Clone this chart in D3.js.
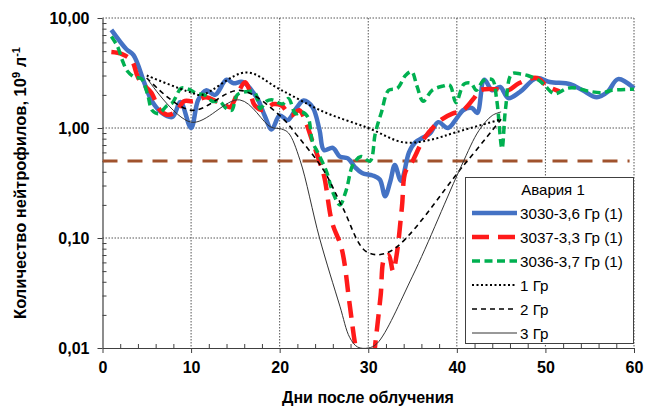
<!DOCTYPE html>
<html>
<head>
<meta charset="utf-8">
<script src="https://cdn.jsdelivr.net/npm/d3@7"></script>
<style>
html,body{margin:0;padding:0;background:#fff;}
svg{display:block;font-family:Arial,"Liberation Sans",sans-serif;}
</style>
</head>
<body>
<svg id="chart" width="646" height="407"></svg>
<script>
// ---------- data ----------
const xTickValues = [0, 10, 20, 30, 40, 50, 60];
const xMinorTicks = [2,4,6,8,12,14,16,18,22,24,26,28,32,34,36,38,42,44,46,48,52,54,56,58];
const yTickValues = [0.01, 0.1, 1, 10];
const yTickLabels = ["0,01", "0,10", "1,00", "10,00"];
const xTitle = "Дни после облучения";
const yTitleMain = "Количество нейтрофилов, 10";
const legendTitle = "Авария 1";
const seriesNames = ["3030-3,6 Гр (1)", "3037-3,3 Гр (1)", "3036-3,7 Гр (1)", "1 Гр", "2 Гр", "3 Гр"];
const thresholdValue = 0.5;

const blue3030 = [[1,7.8],[2.7,5.2],[3.5,4.6],[4.7,2.6],[5.5,1.8],[6.7,1.37],[7.9,1.26],[8.8,1.72],[10,1.0],[10.8,1.8],[11.7,2.2],[12.7,2.0],[14,2.75],[14.8,2.55],[15.8,2.62],[17.4,1.9],[18.3,1.3],[19.1,0.97],[20,1.3],[20.9,1.18],[21.9,1.52],[22.7,1.78],[23.7,1.55],[24.5,0.96],[25,0.63],[26,0.66],[26.8,0.55],[27.7,0.53],[28.5,0.44],[29.3,0.39],[30.5,0.37],[31.3,0.34],[31.9,0.24],[32.5,0.33],[33,0.46],[33.7,0.33],[34.6,0.6],[35.3,0.74],[36.2,0.82],[37,0.9],[37.9,1.13],[39,1.0],[40,1.23],[40.7,1.45],[41.7,1.52],[42.3,1.37],[43.1,2.75],[44,2.2],[44.9,2.36],[45.8,1.87],[47.1,2.12],[49,2.84],[50.5,2.62],[52.8,2.5],[54.2,2.2],[55.8,1.9],[57,2.12],[58.2,2.78],[60,2.3]];
const red3037 = [[1,4.9],[2.2,4.7],[3.3,4.1],[4,2.9],[4.8,2.4],[5.5,2.1],[6.5,1.45],[7.3,1.32],[8.3,1.4],[9.2,1.75],[10.2,1.75],[11.7,1.9],[12.8,1.75],[13.9,1.6],[14.4,1.55],[15.3,2.1],[16.1,2.6],[16.6,2.2],[17.2,1.6],[18.2,1.45],[19.3,1.65],[20.2,1.6],[21.3,1.3],[22.2,1.45],[23,1.1],[23.6,0.8],[24.3,0.55],[25,0.37],[25.9,0.14],[27,0.08],[27.9,0.025],[28.5,0.011],[29.5,0.004],[30.3,0.005],[30.8,0.011],[31.4,0.03],[31.8,0.065],[32.3,0.07],[32.8,0.05],[33.2,0.07],[33.8,0.19],[34.2,0.4],[35,0.5],[36.2,0.78],[37.5,1.05],[38.3,1.2],[39.5,1.35],[40.7,1.45],[42,1.9],[42.6,2.2],[44.5,2.25],[45.8,2.2],[47,2.55],[49,2.85],[50.2,2.4],[51.6,2.15]];
const green3036 = [[1,6.8],[1.7,5.5],[2.3,4.0],[2.8,3.3],[3.6,2.9],[4.4,2.8],[5.1,2.0],[5.6,1.45],[6.3,1.35],[7.3,1.6],[7.9,1.7],[8.9,2.3],[9.7,2.25],[10.7,2.05],[11.5,2.0],[12.4,1.75],[13.2,1.75],[14,1.5],[14.6,1.45],[15.2,2.0],[16.4,2.15],[17.2,2.1],[17.8,1.5],[18.5,1.75],[19.2,1.8],[20.3,1.65],[21,1.85],[21.8,1.35],[22.5,1.4],[23.2,1.25],[23.7,0.75],[24.3,0.6],[25.3,0.4],[26,0.26],[26.8,0.2],[27.5,0.27],[28.3,0.47],[29.2,0.55],[30.2,0.5],[30.8,0.9],[31.5,1.4],[32.3,2.2],[33.3,2.3],[34.2,3.0],[34.9,3.25],[35.5,2.4],[36.2,1.75],[37.2,2.2],[38.4,2.4],[39.2,2.45],[39.9,1.7],[40.8,2.5],[41.6,2.55],[42.2,2.2],[43,2.7],[44,2.75],[44.5,1.8],[45.1,0.65],[45.5,1.5],[46.2,3.1],[47.2,3.1],[48,3.0],[49.3,2.7],[50,2.4],[51,2.05],[52.5,2.3],[53.6,2.3],[55,2.15],[56.5,2.1],[57.5,2.2],[60,2.25]];
const ref1Gy = [[5,3.0],[10,2.1],[11.2,2.0],[16.2,3.2],[20,2.25],[25,1.4],[30,1.0],[34,0.74],[37,0.78],[40,0.92],[45,1.2]];
const ref2Gy = [[5,2.85],[10,1.45],[15.5,2.2],[20,1.3],[22,0.85],[24.9,0.42],[27.1,0.19],[29.8,0.075],[32.4,0.075],[40.7,0.45],[45,1.2]];
const ref3Gy = [[5,2.85],[10,1.13],[15.5,1.8],[19,1.02],[20.2,0.98],[21,0.9],[22.3,0.51],[24.5,0.1],[26.8,0.024],[27.9,0.0125],[28.8,0.0102],[30,0.01],[31,0.011],[35,0.045],[40.5,0.45],[42.5,0.95],[44,1.3],[45,1.4]];

// ---------- layout ----------
const svg = d3.select("#chart");
const L = 102.5, R = 634, T = 18, B = 348;
const x = d3.scaleLinear().domain([0, 60]).range([L, R]);
const y = d3.scaleLog().domain([0.01, 10]).range([B, T]);
const axisColor = "#404040";
const font = 'Arial,"Liberation Sans",sans-serif';

svg.append("defs").append("clipPath").attr("id", "plotClip")
  .append("rect").attr("x", L).attr("y", T - 2).attr("width", R - L + 2).attr("height", B - T + 2);

// gridlines
const grid = svg.append("g");
xTickValues.filter(d => d > 0).forEach(d => {
  grid.append("line").attr("x1", x(d)).attr("x2", x(d)).attr("y1", T).attr("y2", B)
    .attr("stroke", "#555").attr("stroke-width", 1).attr("stroke-dasharray", "1.5,1.5");
});
yTickValues.filter(d => d > 0.01).forEach(d => {
  grid.append("line").attr("x1", L).attr("x2", R).attr("y1", y(d)).attr("y2", y(d))
    .attr("stroke", "#555").attr("stroke-width", 1).attr("stroke-dasharray", "1.5,1.5");
});

// axes
const xAxis = svg.append("g").attr("transform", `translate(0,${B})`)
  .call(d3.axisBottom(x).tickValues(xTickValues).tickSize(5).tickSizeOuter(0).tickFormat(d3.format("d")));
const xMinor = svg.append("g").attr("transform", `translate(0,${B})`)
  .call(d3.axisBottom(x).tickValues(xMinorTicks).tickSize(-4).tickSizeOuter(0).tickFormat(""));
const yAxis = svg.append("g").attr("transform", `translate(${L},0)`)
  .call(d3.axisLeft(y).tickValues(yTickValues).tickSize(5).tickSizeOuter(0)
    .tickFormat((d, i) => yTickLabels[i]));
const yMinorVals = [];
[0.01, 0.1, 1].forEach(dec => { for (let k = 2; k <= 9; k++) yMinorVals.push(dec * k); });
const yMinor = svg.append("g").attr("transform", `translate(${L},0)`)
  .call(d3.axisLeft(y).tickValues(yMinorVals).tickSize(-4).tickSizeOuter(0).tickFormat(""));

[xAxis, xMinor, yAxis, yMinor].forEach(g => {
  g.selectAll("path").attr("stroke", axisColor).attr("stroke-width", 1.2);
  g.selectAll("line").attr("stroke", axisColor).attr("stroke-width", 1);
});
xMinor.select("path").remove();
yMinor.select("path").remove();
xAxis.selectAll("text").attr("font-family", font).attr("font-size", 16).attr("font-weight", "bold")
  .attr("fill", "#000").attr("dy", "1.05em");
yAxis.selectAll("text").attr("font-family", font).attr("font-size", 16).attr("font-weight", "bold")
  .attr("fill", "#000").attr("x", -13);

// titles
svg.append("text").attr("x", 368).attr("y", 403).attr("text-anchor", "middle")
  .attr("font-family", font).attr("font-size", 16).attr("font-weight", "bold").text(xTitle);
const yt = svg.append("text").attr("transform", "translate(26,183) rotate(-90)").attr("text-anchor", "middle")
  .attr("font-family", font).attr("font-size", 16.5).attr("font-weight", "bold");
yt.append("tspan").text(yTitleMain);
yt.append("tspan").attr("font-size", 11).attr("dy", -6).text("9");
yt.append("tspan").attr("font-size", 16.5).attr("dy", 6).text(" л");
yt.append("tspan").attr("font-size", 11).attr("dy", -6).text("-1");

// series
const plot = svg.append("g").attr("clip-path", "url(#plotClip)");
plot.append("line").attr("x1", x(0)).attr("x2", x(59.5)).attr("y1", y(thresholdValue)).attr("y2", y(thresholdValue))
  .attr("stroke", "#A0522D").attr("stroke-width", 3).attr("stroke-dasharray", "15,10");

const line = d3.line().x(d => x(d[0])).y(d => y(d[1])).curve(d3.curveCatmullRom.alpha(0.5));
const styles = [
  {data: blue3030, color: "#4472C4", w: 4.5, dash: null},
  {data: red3037, color: "#FF1A1A", w: 4.5, dash: "17,9"},
  {data: green3036, color: "#00B050", w: 3.5, dash: "8,4.5"},
  {data: ref1Gy, color: "#000", w: 2, dash: "2,2.5"},
  {data: ref2Gy, color: "#000", w: 1.6, dash: "5,4"},
  {data: ref3Gy, color: "#333", w: 1, dash: null}
];
styles.forEach(s => {
  plot.append("path").datum(s.data).attr("d", line).attr("fill", "none")
    .attr("stroke", s.color).attr("stroke-width", s.w)
    .attr("stroke-dasharray", s.dash).attr("stroke-linejoin", "round");
});

// legend
const lg = svg.append("g");
lg.append("rect").attr("x", 465.5).attr("y", 177.5).attr("width", 168).attr("height", 166)
  .attr("fill", "#fff").attr("stroke", "#404040").attr("stroke-width", 1);
lg.append("text").attr("x", 553).attr("y", 195).attr("text-anchor", "middle")
  .attr("font-family", font).attr("font-size", 15).text(legendTitle);
seriesNames.forEach((name, i) => {
  const yy = 213 + i * 24;
  const s = styles[i];
  lg.append("line").attr("x1", 472).attr("x2", 517).attr("y1", yy).attr("y2", yy)
    .attr("stroke", s.color).attr("stroke-width", s.w).attr("stroke-dasharray", s.dash);
  lg.append("text").attr("x", 520).attr("y", yy + 5.5).attr("font-family", font).attr("font-size", 15.2)
    .text(name);
});
</script>
</body>
</html>
